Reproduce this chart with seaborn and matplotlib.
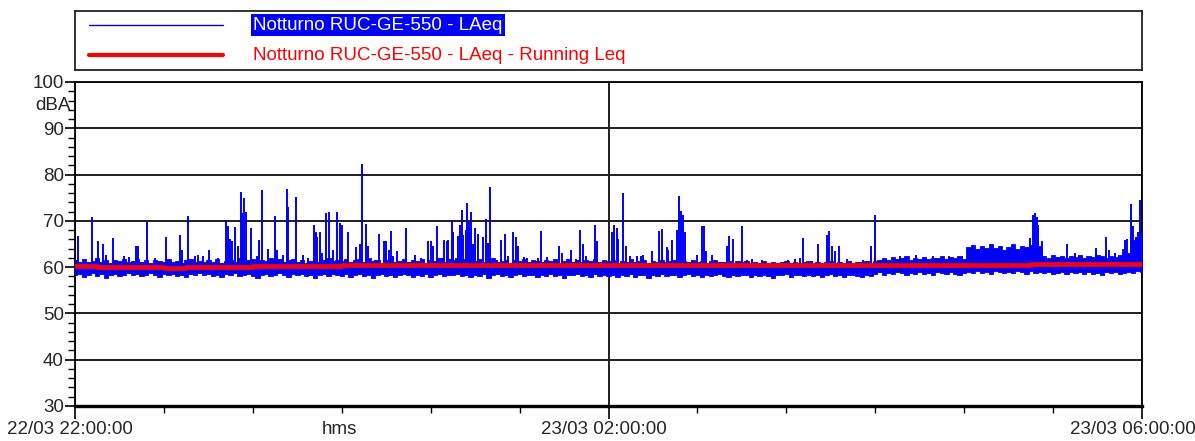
import matplotlib
matplotlib.use("Agg")
import matplotlib.pyplot as plt
import matplotlib.transforms as mtransforms
from matplotlib.ticker import MultipleLocator
import seaborn as sns

# --- data -----------------------------------------------------------------
# minutes after 22:00 of 22/03, sampled every 2 minutes
band_minutes = list(range(0, 481, 2))

# upper edge of the 1-s LAeq band (dBA), per 2-minute interval
band_high = [
    61.6, 61.2, 61.8, 61.1, 61.4, 61.9, 61.2, 61.5, 61.0, 61.6, 61.3, 61.8, 61.1, 61.4, 61.7,
    61.2, 61.5, 61.0, 61.6, 61.3, 61.1, 61.7, 61.2, 61.4, 61.0, 61.5, 61.8, 61.2, 61.4, 61.1,
    61.5, 61.2, 61.7, 61.0, 61.4, 61.6, 61.1, 61.9, 61.3, 61.5, 61.8, 61.2, 61.6, 61.4, 61.9,
    61.3, 61.7, 61.1, 61.5, 61.8, 61.2, 61.6, 61.0, 61.4, 61.7, 61.2, 61.5, 61.9, 61.3, 61.6,
    61.4, 61.8, 61.1, 61.5, 61.7, 61.2, 61.9, 61.3, 61.6, 61.0, 61.5, 61.8, 61.2, 61.4, 61.7,
    61.1, 61.5, 61.3, 61.8, 61.0, 61.6, 61.4, 61.9, 61.2, 61.7, 61.5, 61.9, 61.4, 61.8, 61.6,
    61.3, 61.7, 61.2, 61.5, 61.9, 61.1, 61.4, 61.6, 61.0, 61.5, 61.3, 61.8, 61.2, 61.6, 61.4,
    61.1, 61.5, 61.3, 61.7, 61.0, 61.4, 61.8, 61.2, 61.5, 61.1, 61.6, 61.3, 61.7, 61.2, 61.5,
    61.3, 61.6, 61.0, 61.4, 61.2, 61.7, 61.1, 61.3, 61.5, 61.0, 61.4, 61.2, 61.6, 61.1, 61.3,
    61.5, 61.0, 61.3, 61.2, 61.6, 61.1, 61.4, 61.0, 61.3, 61.5, 61.1, 61.2, 61.4, 61.0, 61.3,
    61.1, 61.4, 61.0, 61.2, 60.9, 61.3, 61.0, 61.2, 60.9, 61.1, 61.3, 61.0, 61.2, 60.9, 61.1,
    61.3, 61.0, 61.2, 60.9, 61.1, 61.4, 61.0, 61.2, 60.9, 61.3, 61.0, 61.2, 61.1, 61.4, 61.0,
    61.3, 61.6, 61.9, 61.5, 62.1, 61.7, 61.9, 62.3, 61.6, 62.0, 61.8, 62.2, 61.7, 62.0, 61.9,
    62.3, 61.8, 62.1, 61.9, 62.4, 61.7, 64.3, 64.8, 63.9, 64.5, 64.1, 64.9, 64.2, 64.6, 63.8,
    64.4, 64.9, 64.0, 64.6, 64.3, 64.8, 64.2, 64.5, 62.4, 62.0, 62.6, 62.1, 62.5, 61.9, 62.4,
    62.2, 62.6, 62.0, 62.4, 62.1, 62.7, 62.3, 62.0, 62.5, 62.2, 62.6, 64.0, 63.0, 65.8, 66.3,
    66.0,
]

# lower edge of the 1-s LAeq band (dBA), per 2-minute interval
band_low = [
    58.3, 58.6, 57.9, 58.4, 58.7, 58.1, 58.5, 57.7, 58.3, 58.6, 58.0, 58.4, 58.8, 58.2, 58.5,
    58.0, 58.4, 58.7, 58.2, 57.8, 58.5, 58.3, 58.6, 58.1, 58.4, 57.9, 58.5, 58.2, 58.7, 58.3,
    58.6, 58.1, 58.4, 57.8, 58.5, 58.2, 58.7, 58.0, 58.4, 58.6, 58.1, 57.7, 58.3, 58.5, 58.0,
    58.4, 58.7, 58.2, 57.9, 58.5, 58.3, 58.6, 58.0, 58.4, 57.6, 58.2, 58.5, 58.1, 58.6, 58.3,
    58.1, 58.5, 57.8, 58.3, 58.6, 58.0, 58.4, 57.7, 58.2, 58.5, 58.1, 58.4, 57.9, 58.3, 58.6,
    58.2, 57.8, 58.4, 58.1, 58.5, 57.9, 58.3, 58.6, 58.0, 58.4, 58.2, 58.5, 58.1, 58.4, 57.8,
    58.3, 58.0, 58.5, 57.7, 58.2, 58.6, 58.1, 58.4, 57.9, 58.3, 58.6, 58.0, 58.4, 58.2, 57.8,
    58.4, 58.1, 58.5, 58.0, 58.3, 57.7, 58.4, 58.2, 58.6, 58.0, 58.3, 57.8, 58.5, 58.1, 58.4,
    58.0, 58.3, 57.8, 58.4, 58.1, 58.5, 57.9, 58.2, 58.4, 57.7, 58.3, 58.1, 58.5, 58.0, 58.2,
    58.4, 57.9, 58.2, 58.5, 58.1, 58.3, 57.8, 58.4, 58.0, 58.3, 58.5, 58.1, 57.8, 58.3, 58.0,
    58.4, 58.2, 57.9, 58.3, 58.0, 58.4, 58.1, 57.7, 58.3, 58.2, 58.5, 57.9, 58.2, 58.4, 58.0,
    58.3, 58.1, 58.4, 57.8, 58.2, 58.5, 58.0, 58.3, 57.9, 58.2, 58.4, 58.1, 57.8, 58.3, 58.0,
    58.6, 58.9, 58.4, 58.8, 58.5, 59.0, 58.7, 58.3, 58.8, 58.6, 59.0, 58.5, 58.8, 58.4, 58.9,
    58.7, 58.5, 58.9, 58.6, 58.3, 58.8, 59.0, 58.7, 59.2, 58.8, 59.0, 58.6, 59.1, 58.9, 58.7,
    59.0, 58.8, 59.2, 58.9, 58.6, 59.1, 58.8, 59.0, 58.7, 58.9, 58.5, 58.8, 59.0, 58.6, 58.9,
    58.7, 59.0, 58.5, 58.9, 58.6, 58.8, 58.4, 59.0, 58.7, 58.9, 58.5, 58.8, 59.0, 58.8, 59.1,
    59.0,
]

# short noise events rising out of the band: time (min) and peak level (dBA)
peak_minutes = [
    1.2, 7.5, 10.5, 12.4, 14.0, 17.2, 22.0, 24.3, 27.4, 28.5, 32.2, 36.0, 41.0, 47.2, 48.0,
    50.7, 54.0, 55.5, 57.7, 60.3, 64.5, 67.9, 68.7, 69.7, 70.5, 72.0, 73.2, 74.5, 75.3, 76.0,
    76.8, 79.2, 81.7, 82.9, 84.0, 86.7, 90.0, 90.7, 93.7, 95.5, 96.0, 99.3, 102.7, 105.0, 107.5,
    108.2, 109.0, 110.2, 111.0, 112.7, 114.2, 116.2, 118.0, 119.2, 120.0,
    122.7, 126.4, 128.2, 129.0, 130.8, 131.7, 135.0, 136.8, 139.2, 140.0, 141.3, 142.2, 143.2,
    144.7, 148.8, 153.0, 155.7, 159.0, 160.2, 161.2, 162.7, 165.0, 166.2, 167.2, 168.0, 169.5,
    170.2, 172.5, 173.2, 174.0, 174.7, 175.8, 176.4, 177.3, 178.2, 179.2, 180.0, 181.5, 183.7,
    184.8, 185.7, 186.6, 189.7, 191.5, 193.5, 195.0, 197.2, 198.4, 199.5, 202.2, 203.2, 208.2,
    209.5, 212.2, 217.8, 219.3, 223.1, 225.4, 227.2, 228.4, 229.7, 234.0, 234.7, 241.4, 242.6,
    243.6, 244.4, 246.3, 247.8, 249.6, 252.6, 254.6, 255.6, 259.4, 262.7, 263.9, 266.1, 266.9,
    268.4, 270.6, 271.8, 272.4, 273.6, 274.4, 277.7, 279.6, 282.2, 283.1, 283.7, 286.7, 293.1,
    294.2, 296.1, 299.9, 302.1, 304.4, 308.9, 320.9, 323.9, 326.1, 327.6, 331.4, 334.4, 338.4,
    339.2, 340.7, 341.9, 343.8, 347.1, 354.6, 358.0, 359.8, 362.8,
    371.0, 378.5, 386.0, 393.2, 399.0, 429.6, 430.9, 431.9, 432.6, 433.4, 434.9, 446.1, 449.9,
    459.2, 463.7, 465.2, 467.9, 472.3, 473.1, 475.0, 476.1, 477.1, 478.0, 479.1, 479.6,
]
peak_dba = [
    66.8, 70.8, 65.6, 65.1, 62.7, 66.3, 62.4, 62.2, 64.6, 64.5, 69.7, 62.0, 66.6, 67.0, 63.8,
    71.1, 62.4, 62.7, 62.5, 63.8, 62.0, 70.2, 68.8, 66.1, 65.6, 68.6, 64.6, 76.3, 71.8, 74.9,
    72.0, 68.4, 62.4, 65.9, 76.6, 63.9, 71.1, 63.8, 62.7, 76.9, 73.1, 75.2, 62.7, 62.0, 69.0,
    67.5, 66.5, 67.7, 63.1, 71.8, 71.9, 63.8, 72.0, 69.6, 69.1,
    67.5, 64.4, 64.9, 82.2, 69.4, 64.6, 61.6, 67.1, 65.7, 65.6, 63.8, 67.9, 62.4,
    63.4, 68.4, 62.7, 62.0, 65.7, 65.6, 64.6, 68.9, 62.0, 65.9, 65.6, 65.9, 69.9,
    67.7, 66.8, 69.1, 72.4, 67.0, 68.1, 73.8, 69.7, 72.0, 64.9, 68.4, 67.2, 66.5,
    70.4, 65.2, 77.4, 61.6, 65.8, 67.2, 62.4, 67.5, 66.6, 64.6, 62.2, 62.0, 62.0,
    67.9, 62.2, 64.6, 63.1, 63.6, 61.8, 68.1, 64.9, 62.4, 69.1, 65.6, 67.7, 69.1,
    68.4, 66.1, 76.1, 64.6, 62.4, 62.5, 62.4, 62.7, 63.4, 67.9, 68.3, 64.4, 63.8,
    65.9, 68.1, 75.4, 72.2, 71.3, 67.7, 61.6, 62.7, 68.9, 68.8, 63.4, 62.7, 64.5,
    66.8, 66.1, 68.8, 61.6, 61.8, 61.6, 61.5, 61.8, 62.0, 66.3, 61.3, 65.0, 67.0,
    67.9, 64.6, 63.4, 64.6, 61.8, 61.6, 64.5, 71.3, 61.6,
    62.4, 62.6, 62.3, 62.5, 62.4, 66.3, 71.2, 71.6, 70.9, 69.1, 65.6, 64.9, 63.1,
    64.1, 66.5, 63.8, 63.0, 65.9, 66.1, 73.6, 68.8, 66.6, 67.7, 74.4, 67.5,
]

# running Leq (dBA), every 10 minutes
leq_minutes = list(range(0, 481, 10))
running_leq = [
    60.3, 60.1, 60.1, 60.1, 59.9, 60.0, 60.0, 60.0, 60.2, 60.3,
    60.3, 60.3, 60.4, 60.5, 60.5, 60.5, 60.5, 60.5, 60.5, 60.5,
    60.5, 60.5, 60.5, 60.5, 60.5, 60.5, 60.5, 60.5, 60.5, 60.5,
    60.4, 60.4, 60.4, 60.4, 60.4, 60.4, 60.4, 60.4, 60.4, 60.4,
    60.4, 60.5, 60.5, 60.6, 60.6, 60.6, 60.6, 60.6, 60.7,
]

series_names = ["Notturno RUC-GE-550 - LAeq",
                "Notturno RUC-GE-550 - LAeq - Running Leq"]
time_ticks = [0, 240, 480]
time_labels = ["22/03 22:00:00", "23/03 02:00:00", "23/03 06:00:00"]

# --- style ----------------------------------------------------------------
sns.set_style("white")
plt.rcParams["font.family"] = ["Liberation Sans", "DejaVu Sans"]
FS = 13.5
BLUE = "#0000ff"
RED = "#ff0000"

W, H = 1195, 441
fig = plt.figure(figsize=(W / 100, H / 100), dpi=100)
ax = fig.add_axes([75 / W, 1 - 406 / H, 1067 / W, 324 / H])

# LAeq trace: band envelope plus individual events
ax.fill_between(band_minutes, band_low, band_high, step="mid", color=BLUE,
                lw=0.6, edgecolor=BLUE, zorder=3)
ax.vlines(peak_minutes, 60, peak_dba, color=BLUE, lw=1.4, zorder=3)

# running Leq
sns.lineplot(x=leq_minutes, y=running_leq, color=RED, lw=3.4,
             drawstyle="steps-post", ax=ax, zorder=4)

ax.set_xlim(0, 480)
ax.set_ylim(30, 100)
ax.set_xlabel("")
ax.set_ylabel("")

ax.set_yticks(range(30, 101, 10))
ax.yaxis.set_minor_locator(MultipleLocator(2))
ax.set_xticks(time_ticks)
ax.set_xticklabels(time_labels)
ax.xaxis.set_minor_locator(MultipleLocator(40))

ax.tick_params(axis="y", which="major", direction="out", length=7, width=1.2,
               labelsize=FS, pad=1, color="black", left=True)
ax.tick_params(axis="y", which="minor", direction="out", length=5, width=1.0,
               color="black", left=True)
ax.tick_params(axis="x", which="major", direction="out", length=9, width=1.2,
               labelsize=FS, pad=2, color="black", bottom=True)
ax.tick_params(axis="x", which="minor", direction="out", length=5, width=1.0,
               color="black", bottom=True)

shift = mtransforms.ScaledTranslation(-5 / 100, 0, fig.dpi_scale_trans)
for i, lab in enumerate(ax.get_xticklabels()):
    extra = -4 / 100 if i == len(time_labels) - 1 else 0
    lab.set_transform(lab.get_transform() + shift +
                      mtransforms.ScaledTranslation(extra, 0, fig.dpi_scale_trans))

ax.annotate("hms", xy=(120, 0), xycoords=("data", "axes fraction"),
            xytext=(-1.5, -11), textcoords="offset points",
            ha="center", va="top", fontsize=FS)
ax.annotate("dBA", xy=(0, 95), xycoords=("axes fraction", "data"),
            xytext=(-3, 0), textcoords="offset points",
            ha="right", va="center", fontsize=FS)

ax.grid(True, which="major", color="#1e1e1e", lw=1.4, zorder=1)
ax.grid(False, which="minor")
for side in ["left", "right", "top"]:
    ax.spines[side].set_color("black")
    ax.spines[side].set_linewidth(1.3)
ax.spines["bottom"].set_color("black")
ax.spines["bottom"].set_linewidth(2.4)

# legend panel above the plot
lax = fig.add_axes([75 / W, 1 - 70 / H, 1067 / W, 59 / H])
lax.set_xlim(0, 1067)
lax.set_ylim(59, 0)
lax.set_xticks([])
lax.set_yticks([])
for s in lax.spines.values():
    s.set_color("#222222")
    s.set_linewidth(1.3)
lax.plot([14, 148], [14, 14], color=BLUE, lw=1.0)
lax.plot([14, 148], [44, 44], color=RED, lw=3.0)
lax.text(178, 14, series_names[0], color="white", fontsize=FS, va="center",
         ha="left", bbox=dict(boxstyle="square,pad=0.12", fc=BLUE, ec="none"))
lax.text(178, 44, series_names[1], color=RED, fontsize=FS, va="center", ha="left")

fig.savefig("out.png", dpi=100)
